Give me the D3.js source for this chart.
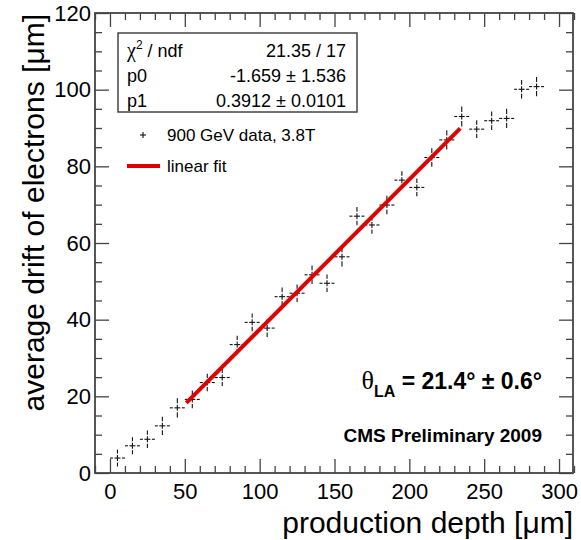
<!DOCTYPE html>
<html>
<head>
<meta charset="utf-8">
<script src="https://cdn.jsdelivr.net/npm/d3@7"></script>
<style>
  html, body { margin: 0; padding: 0; background: #fff; }
  svg { display: block; }
  text { font-family: "Liberation Sans", Arial, Helvetica, sans-serif; fill: #000; }
</style>
</head>
<body>
<svg id="chart" width="581" height="540"></svg>
<script>
// ---- data ----
const depth = [5, 15, 25, 35, 45, 55, 65, 75, 85, 95, 105, 115, 125, 135, 145, 155, 165, 175, 185, 195, 205, 215, 225, 235, 245, 255, 265, 275, 285];
const drift = [3.9, 7.1, 8.8, 12.3, 17.0, 19.2, 23.6, 24.9, 33.5, 39.3, 37.8, 46.0, 46.9, 51.7, 49.5, 56.4, 67.0, 64.7, 69.9, 76.4, 74.5, 82.3, 86.9, 93.0, 89.7, 91.9, 92.5, 100.1, 100.8];
const driftErr = [2.2, 2.2, 2.3, 2.4, 2.5, 2.3, 2.3, 2.2, 2.3, 2.3, 2.3, 2.4, 2.3, 2.4, 2.3, 2.5, 2.4, 2.3, 2.4, 2.3, 2.3, 2.4, 2.5, 2.6, 2.3, 2.4, 2.5, 2.4, 2.5];
const depthHalfWidth = 5;
const fitP0 = -1.659;
const fitP1 = 0.3912;
const fitRange = [51, 234];
const xTicks = [0, 50, 100, 150, 200, 250, 300];
const yTicks = [0, 20, 40, 60, 80, 100, 120];
const statsRows = [
  ["χ2 / ndf", "21.35 / 17"],
  ["p0", "-1.659 ± 1.536"],
  ["p1", "0.3912 ± 0.0101"]
];
const legendLabels = ["900 GeV data, 3.8T", "linear fit"];

// ---- layout ----
const svg = d3.select("#chart");
const L = 95, R = 573, T = 13, B = 473;
const x = d3.scaleLinear().domain([-10, 310]).range([L, R + 1]);
const y = d3.scaleLinear().domain([0, 120]).range([B, T]);
const frameColor = "#444";

// minor tick values
const xMinor = d3.range(-10, 311, 10).filter(v => v % 50 !== 0);
const yMinor = d3.range(0, 121, 5).filter(v => v % 20 !== 0);

function styleAxis(g) {
  g.select(".domain").remove();
  g.selectAll(".tick line").attr("stroke", frameColor).attr("stroke-width", 1.3);
  g.selectAll(".tick text").style("font-family", "'Liberation Sans', Arial, sans-serif").style("font-size", "22px").attr("fill", "#000");
}

// bottom axis
svg.append("g").attr("transform", `translate(0,${B})`)
  .call(d3.axisBottom(x).tickValues(xTicks).tickSize(-14).tickPadding(10).tickFormat(d3.format("d")))
  .call(styleAxis);
svg.append("g").attr("transform", `translate(0,${B})`)
  .call(d3.axisBottom(x).tickValues(xMinor).tickSize(-7).tickFormat(""))
  .call(styleAxis);
// top axis
svg.append("g").attr("transform", `translate(0,${T})`)
  .call(d3.axisTop(x).tickValues(xTicks).tickSize(-14).tickFormat(""))
  .call(styleAxis);
svg.append("g").attr("transform", `translate(0,${T})`)
  .call(d3.axisTop(x).tickValues(xMinor).tickSize(-7).tickFormat(""))
  .call(styleAxis);
// left axis
svg.append("g").attr("transform", `translate(${L},0)`)
  .call(d3.axisLeft(y).tickValues(yTicks).tickSize(-14).tickPadding(4).tickFormat(d3.format("d")))
  .call(styleAxis);
svg.append("g").attr("transform", `translate(${L},0)`)
  .call(d3.axisLeft(y).tickValues(yMinor).tickSize(-7).tickFormat(""))
  .call(styleAxis);
// right axis
svg.append("g").attr("transform", `translate(${R},0)`)
  .call(d3.axisRight(y).tickValues(yTicks).tickSize(-14).tickFormat(""))
  .call(styleAxis);
svg.append("g").attr("transform", `translate(${R},0)`)
  .call(d3.axisRight(y).tickValues(yMinor).tickSize(-7).tickFormat(""))
  .call(styleAxis);

// frame
svg.append("rect").attr("x", L).attr("y", T).attr("width", R - L).attr("height", B - T)
  .attr("fill", "none").attr("stroke", frameColor).attr("stroke-width", 1.8);

// ---- data points with error bars (ROOT style, gap around the marker) ----
const pts = depth.map((d, i) => ({ x: d, y: drift[i], ey: driftErr[i] }));
const gap = 4.5, arm = 3;
const pg = svg.append("g").attr("stroke", "#111").attr("stroke-width", 1.1).attr("fill", "none");
pts.forEach(p => {
  const cx = x(p.x), cy = y(p.y);
  const xl = x(p.x - depthHalfWidth), xr = x(p.x + depthHalfWidth);
  const yt = y(p.y + p.ey), yb = y(p.y - p.ey);
  const segs = [
    [xl, cy, cx - gap, cy], [cx + gap, cy, xr, cy],
    [cx, yt, cx, cy - gap], [cx, cy + gap, cx, yb],
    [cx - arm, cy, cx + arm, cy], [cx, cy - arm, cx, cy + arm]
  ];
  segs.forEach(s => pg.append("line").attr("x1", s[0]).attr("y1", s[1]).attr("x2", s[2]).attr("y2", s[3]));
});

// ---- fit line ----
const fitLine = d3.line().x(d => x(d)).y(d => y(fitP0 + fitP1 * d));
svg.append("path").datum(fitRange).attr("d", fitLine)
  .attr("stroke", "#e00000").attr("stroke-width", 4).attr("fill", "none");

// ---- stats box ----
const sb = { x: 118, y: 33, w: 239, h: 79 };
svg.append("rect").attr("x", sb.x).attr("y", sb.y).attr("width", sb.w).attr("height", sb.h)
  .attr("fill", "#fff").attr("stroke", frameColor).attr("stroke-width", 1.5);
const rowBase = [57, 82, 107];
statsRows.forEach((r, i) => {
  const tl = svg.append("text").attr("x", 127).attr("y", rowBase[i]).style("font-size", "18px");
  if (i === 0) {
    tl.append("tspan").text("χ").style("font-family", "'Liberation Serif', serif").style("font-size", "20px");
    tl.append("tspan").text("2").style("font-size", "12px").attr("dy", -8);
    tl.append("tspan").text(" / ndf").attr("dy", 8);
  } else {
    tl.text(r[0]);
  }
  svg.append("text").attr("x", 346).attr("y", rowBase[i]).attr("text-anchor", "end")
    .style("font-size", "18px").text(r[1]);
});

// ---- legend ----
const lg = svg.append("g");
lg.append("line").attr("x1", 140).attr("x2", 146).attr("y1", 135).attr("y2", 135).attr("stroke", "#111").attr("stroke-width", 1.1);
lg.append("line").attr("x1", 143).attr("x2", 143).attr("y1", 132).attr("y2", 138).attr("stroke", "#111").attr("stroke-width", 1.1);
lg.append("text").attr("x", 167).attr("y", 141).style("font-size", "17px").text(legendLabels[0]);
lg.append("line").attr("x1", 127).attr("x2", 160).attr("y1", 166).attr("y2", 166).attr("stroke", "#e00000").attr("stroke-width", 4);
lg.append("text").attr("x", 167).attr("y", 172).style("font-size", "17px").text(legendLabels[1]);

// ---- annotations ----
const th = svg.append("text").attr("x", 542).attr("y", 389).attr("text-anchor", "end")
  .style("font-size", "23px").style("font-weight", "bold");
th.append("tspan").text("θ").style("font-family", "'Liberation Serif', serif").style("font-weight", "normal").style("font-size", "26px");
th.append("tspan").text("LA").style("font-size", "16px").attr("dy", 8);
th.append("tspan").text(" = 21.4° ± 0.6°").attr("dy", -8);

svg.append("text").attr("x", 542).attr("y", 442).attr("text-anchor", "end")
  .style("font-size", "19px").style("font-weight", "bold").text("CMS Preliminary 2009");

// ---- axis titles ----
svg.append("text").attr("x", R).attr("y", 533).attr("text-anchor", "end")
  .style("font-size", "30px").text("production depth [μm]");
svg.append("text").attr("transform", `translate(44,${T + 1}) rotate(-90)`).attr("text-anchor", "end")
  .style("font-size", "30px").text("average drift of electrons [μm]");
</script>
</body>
</html>
